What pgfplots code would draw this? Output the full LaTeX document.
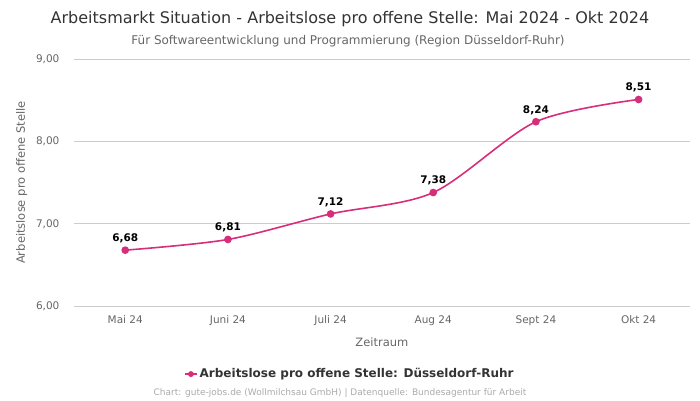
\documentclass[border=0pt]{standalone}
\usepackage{pgfplots}
\pgfplotsset{compat=1.18}
\usepackage{fontspec}
\setmainfont{DejaVu Sans}
\definecolor{linec}{HTML}{D62E7A}
\definecolor{gridc}{HTML}{CCCCCC}
\definecolor{tickc}{HTML}{666666}
\definecolor{titlec}{HTML}{333333}
\definecolor{footc}{HTML}{AAAAAA}
\begin{document}
\begin{tikzpicture}[x=1pt,y=1pt]
\useasboundingbox (0,0) rectangle (700,400);
\node[font=\fontsize{16}{18}\selectfont, text=titlec] at (350,381) {Arbeitsmarkt Situation - Arbeitslose pro offene Stelle: Mai 2024 - Okt 2024};
\node[font=\fontsize{12}{14}\selectfont, text=tickc] at (348,359) {Für Softwareentwicklung und Programmierung (Region Düsseldorf-Ruhr)};
\node[font=\fontsize{9}{10}\selectfont, text=footc] at (340,7) {Chart: gute-jobs.de (Wollmilchsau GmbH) | Datenquelle: Bundesagentur für Arbeit};
% the axis lands a little off its anchor point here, so the point is set to make up for it
\begin{axis}[
    at={(72,114)}, anchor=south west,
    scale only axis, width=616pt, height=247pt,
    xmin=-0.5, xmax=5.5, ymin=6, ymax=9,
    xtick={0,1,2,3,4,5},
    xticklabels={Mai 24,Juni 24,Juli 24,Aug 24,Sept 24,Okt 24},
    ytick={6,7,8,9},
    yticklabel style={/pgf/number format/fixed, /pgf/number format/fixed zerofill,
        /pgf/number format/precision=2, /pgf/number format/use comma, xshift=-11pt},
    /pgf/number format/assume math mode=true,
    ymajorgrids, grid style={gridc, line width=0.8pt},
    axis line style={draw=none},
    major tick length=0pt,
    tick label style={font=\fontsize{10.5}{12}\selectfont, text=tickc},
    xticklabel style={yshift=-6pt},
    xlabel={Zeitraum}, ylabel={Arbeitslose pro offene Stelle},
    label style={font=\fontsize{11.5}{13}\selectfont, text=tickc},
    xlabel style={at={(0.5,0)}, anchor=north, yshift=-28pt},
    ylabel style={at={(0,0.5)}, anchor=south, yshift=43pt},
    legend style={at={(0.448,-0.275)}, anchor=center, draw=none, fill=none,
        font=\bfseries\fontsize{12}{14}\selectfont, text=titlec},
    legend image post style={scale=0.7},
    clip=false,
]
\addplot[linec, line width=1.6pt, smooth, tension=0.5, mark=*, mark size=3pt,
    nodes near coords, point meta=explicit symbolic,
    every node near coord/.style={font=\bfseries\fontsize{10.5}{12}\selectfont, text=black, anchor=south, yshift=3pt}]
coordinates {(0,6.68)[6,68] (1,6.81)[6,81] (2,7.12)[7,12] (3,7.38)[7,38] (4,8.24)[8,24] (5,8.51)[8,51]};
\addlegendentry{Arbeitslose pro offene Stelle: Düsseldorf-Ruhr}
\end{axis}
\end{tikzpicture}
\end{document}
